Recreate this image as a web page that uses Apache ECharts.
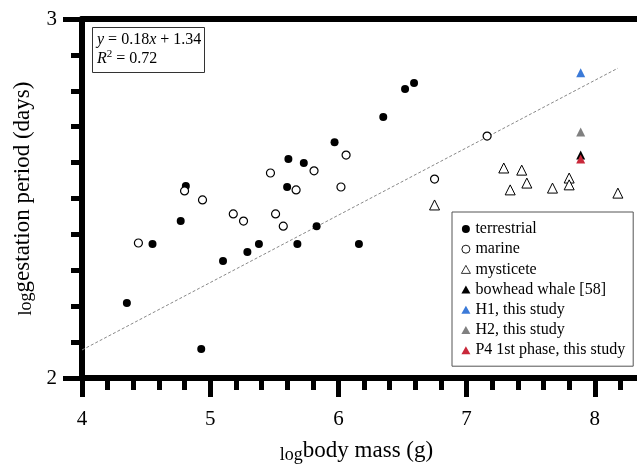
<!DOCTYPE html>
<html>
<head>
<meta charset="utf-8">
<style>
    html, body { margin: 0; padding: 0; background: #fff; }
    #chart { width: 637px; height: 466px; }
</style>
<script src="https://cdn.jsdelivr.net/npm/echarts@6/dist/echarts.min.js"></script>
</head>
<body>
<div id="chart"></div>
<script>
// log body mass (g) vs log gestation period (days)
const terrestrial = [
    [4.35, 2.209], [4.55, 2.373], [4.77, 2.437], [4.81, 2.535], [4.93, 2.081],
    [5.10, 2.326], [5.29, 2.351], [5.38, 2.373], [5.60, 2.532], [5.61, 2.610],
    [5.68, 2.373], [5.73, 2.599], [5.83, 2.423], [5.97, 2.657], [6.16, 2.373],
    [6.35, 2.727], [6.52, 2.805], [6.59, 2.822],
];
const marine = [
    [4.44, 2.376], [4.80, 2.521], [4.94, 2.496], [5.18, 2.457], [5.26, 2.437],
    [5.47, 2.571], [5.51, 2.457], [5.57, 2.423], [5.67, 2.524], [5.81, 2.577],
    [6.02, 2.532], [6.06, 2.621], [6.75, 2.554], [7.16, 2.674],
];
const mysticete = [
    [6.75, 2.482], [7.29, 2.585], [7.34, 2.524], [7.43, 2.579], [7.47, 2.543],
    [7.67, 2.529], [7.80, 2.557], [7.80, 2.538], [8.18, 2.515],
];
const bowhead = [[7.89, 2.621]];
const h1 = [[7.89, 2.850]];
const h2 = [[7.89, 2.685]];
const p4 = [[7.89, 2.610]];
// regression line y = 0.18x + 1.34, end points as drawn
const trend = [[4.0, 2.078], [8.18, 2.863]];

const xRange = [4, 9];
const yRange = [2, 3];

const serif = "'Liberation Serif', 'DejaVu Serif', serif";

const axisCommon = {
    type: 'value',
    interval: 1,
    axisLine: { show: true, lineStyle: { color: '#000', width: 6 } },
    splitLine: { show: false },
    minorSplitLine: { show: false },
};

const option = {
    animation: false,
    title: {
        text: '{i|y} = 0.18{i|x} + 1.34\n{i|R}{sup|2} = 0.72',
        left: 92,
        top: 27,
        padding: [3, 3, 5, 5],
        borderColor: '#333',
        borderWidth: 1,
        textStyle: {
            fontFamily: serif,
            fontSize: 16,
            fontWeight: 'normal',
            color: '#000',
            lineHeight: 19,
            rich: {
                i: { fontFamily: serif, fontSize: 16, fontStyle: 'italic', color: '#000' },
                sup: { fontFamily: serif, fontSize: 11, color: '#000', padding: [0, 0, 9, 0] },
            },
        },
    },
    legend: {
        orient: 'vertical',
        left: 452,
        top: 212,
        padding: [9, 8, 8, 9],
        itemGap: 4.2,
        itemWidth: 9,
        itemHeight: 8,
        borderColor: '#555',
        borderWidth: 1,
        textStyle: { fontFamily: serif, fontSize: 16, color: '#000', lineHeight: 16 },
        data: [
            'terrestrial',
            { name: 'marine', itemStyle: { borderWidth: 0.9 } },
            { name: 'mysticete', itemStyle: { borderWidth: 0.8 } },
            'bowhead whale [58]',
            'H1, this study',
            'H2, this study',
            'P4 1st phase, this study',
        ],
    },
    grid: {
        left: 82,
        top: 19,
        right: -86,
        bottom: 88,
        containLabel: false,
        outerBoundsMode: 'none',
    },
    xAxis: [
        {
            ...axisCommon,
            min: xRange[0],
            max: xRange[1],
            position: 'bottom',
            name: '{sub|log}{n|body mass (g)}',
            nameLocation: 'middle',
            nameGap: 60,
            nameTextStyle: {
                padding: [0, 92, 0, 0],
                rich: {
                    sub: { fontFamily: serif, fontSize: 18, color: '#000', padding: [8, 0, 0, 0] },
                    n: { fontFamily: serif, fontSize: 23, color: '#000' },
                },
            },
            axisTick: { show: true, length: 19, lineStyle: { color: '#000', width: 5 } },
            minorTick: { show: true, splitNumber: 5, length: 12, lineStyle: { color: '#000', width: 5 } },
            axisLabel: { fontFamily: serif, fontSize: 21, color: '#000', margin: 31 },
        },
        {
            ...axisCommon,
            min: xRange[0],
            max: xRange[1],
            position: 'top',
            axisTick: { show: false },
            axisLabel: { show: false },
        },
    ],
    yAxis: {
        ...axisCommon,
        min: yRange[0],
        max: yRange[1],
        name: '{sub|log}{n|gestation period (days)}',
        nameLocation: 'middle',
        nameRotate: 90,
        nameGap: 42,
        nameTextStyle: {
            rich: {
                sub: { fontFamily: serif, fontSize: 18, color: '#000', padding: [8, 0, 0, 0] },
                n: { fontFamily: serif, fontSize: 23, color: '#000' },
            },
        },
        axisTick: { show: true, length: 19, lineStyle: { color: '#000', width: 5 } },
        minorTick: { show: true, splitNumber: 10, length: 11, lineStyle: { color: '#000', width: 5 } },
        axisLabel: { fontFamily: serif, fontSize: 21, color: '#000', margin: 25 },
    },
    series: [
        {
            name: 'trend',
            type: 'line',
            data: trend,
            symbol: 'none',
            silent: true,
            lineStyle: { color: '#888', width: 1, type: [3, 2] },
            z: 1,
        },
        {
            name: 'terrestrial',
            type: 'scatter',
            symbol: 'circle',
            symbolSize: 8,
            data: terrestrial,
            itemStyle: { color: '#000', opacity: 1 },
        },
        {
            name: 'marine',
            type: 'scatter',
            symbol: 'circle',
            symbolSize: 8,
            data: marine,
            itemStyle: { color: '#fff', borderColor: '#000', borderWidth: 1.2, opacity: 1 },
        },
        {
            name: 'mysticete',
            type: 'scatter',
            symbol: 'triangle',
            symbolSize: 10,
            data: mysticete,
            itemStyle: { color: '#fff', borderColor: '#000', borderWidth: 1, opacity: 1 },
        },
        {
            name: 'bowhead whale [58]',
            type: 'scatter',
            symbol: 'triangle',
            symbolSize: 9,
            data: bowhead,
            itemStyle: { color: '#000', opacity: 1 },
        },
        {
            name: 'H1, this study',
            type: 'scatter',
            symbol: 'triangle',
            symbolSize: 9,
            data: h1,
            itemStyle: { color: '#3b7ad8', opacity: 1 },
        },
        {
            name: 'H2, this study',
            type: 'scatter',
            symbol: 'triangle',
            symbolSize: 9,
            data: h2,
            itemStyle: { color: '#808080', opacity: 1 },
        },
        {
            name: 'P4 1st phase, this study',
            type: 'scatter',
            symbol: 'triangle',
            symbolSize: 9,
            data: p4,
            itemStyle: { color: '#c9283a', opacity: 1 },
        },
    ],
};

const myChart = echarts.init(document.getElementById('chart'), null, { renderer: 'canvas' });
myChart.setOption(option);
</script>
</body>
</html>
